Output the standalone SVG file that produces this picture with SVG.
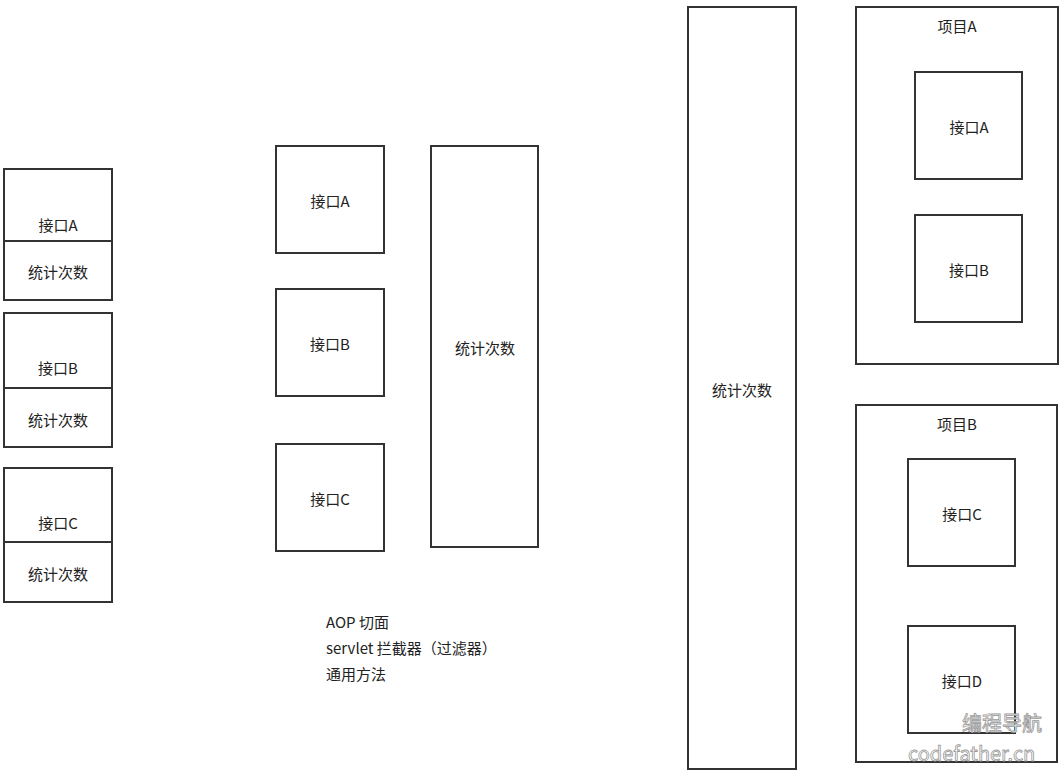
<svg xmlns="http://www.w3.org/2000/svg" width="1060" height="776" viewBox="0 0 1060 776">
<style>
rect{fill:#fff;stroke:#333;stroke-width:2}
text{font-family:"Noto Sans CJK SC","Liberation Sans",sans-serif;font-size:15px;fill:#222;text-anchor:middle;dominant-baseline:central}
.l{text-anchor:start}
.wm{fill:#fff;stroke:#999;stroke-width:0.8;font-size:20px;text-anchor:start}
</style>
<rect x="0" y="0" width="1060" height="776" style="stroke:none"/>
<g id="left1"><rect x="4" y="169" width="108" height="131"/><line x1="4" y1="241" x2="112" y2="241" stroke="#333" stroke-width="2"/><text x="58" y="224">接口A</text><text x="58" y="271">统计次数</text></g>
<g id="left2"><rect x="4" y="313" width="108" height="134"/><line x1="4" y1="388" x2="112" y2="388" stroke="#333" stroke-width="2"/><text x="58" y="367">接口B</text><text x="58" y="419">统计次数</text></g>
<g id="left3"><rect x="4" y="468" width="108" height="134"/><line x1="4" y1="542" x2="112" y2="542" stroke="#333" stroke-width="2"/><text x="58" y="522">接口C</text><text x="58" y="573">统计次数</text></g>
<g id="midA"><rect x="276" y="146" width="108" height="107"/><text x="330" y="200">接口A</text></g>
<g id="midB"><rect x="276" y="289" width="108" height="107"/><text x="330" y="343">接口B</text></g>
<g id="midC"><rect x="276" y="444" width="108" height="107"/><text x="330" y="498">接口C</text></g>
<g id="midStat"><rect x="431" y="146" width="107" height="401"/><text x="485" y="347">统计次数</text></g>
<g id="notes"><text class="l" x="326" y="621">AOP 切面</text><text class="l" x="326" y="647">servlet 拦截器（过滤器）</text><text class="l" x="326" y="673">通用方法</text></g>
<g id="rightStat"><rect x="688" y="7" width="108" height="762"/><text x="742" y="389">统计次数</text></g>
<g id="projA"><rect x="856" y="7" width="202" height="357"/><text x="957" y="25">项目A</text></g>
<g id="pA_A"><rect x="915" y="72" width="107" height="107"/><text x="969" y="126">接口A</text></g>
<g id="pA_B"><rect x="915" y="215" width="107" height="107"/><text x="969" y="269">接口B</text></g>
<g id="projB"><rect x="856" y="405" width="201" height="357"/><text x="957" y="423">项目B</text></g>
<g id="pB_C"><rect x="908" y="459" width="107" height="107"/><text x="962" y="513">接口C</text></g>
<g id="pB_D"><rect x="908" y="626" width="107" height="107"/><text x="962" y="680">接口D</text></g>
<g id="connectors"></g>
<text class="wm" x="962" y="722">编程导航</text>
<text class="wm" x="908" y="752">codefather.cn</text>
</svg>
